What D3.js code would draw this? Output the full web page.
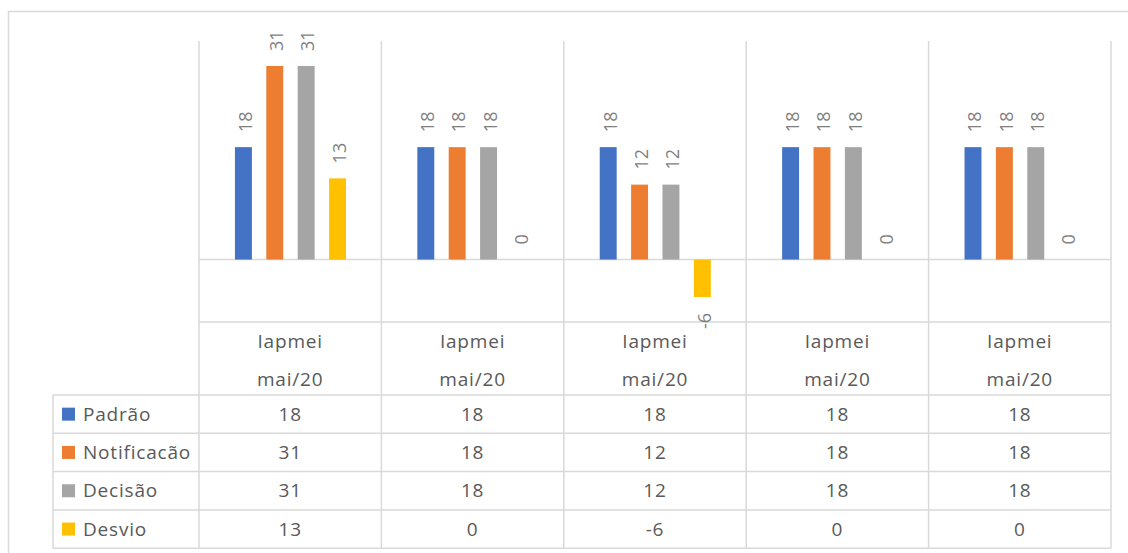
<!DOCTYPE html>
<html>
<head>
<meta charset="utf-8">
<script src="https://cdn.jsdelivr.net/npm/d3@7"></script>
<style>
  html, body { margin: 0; padding: 0; background: #ffffff; }
  svg { display: block; }
  text { font-family: "Open Sans", "Noto Sans", sans-serif; fill: #595959; }
</style>
</head>
<body>
<svg id="chart" width="1128" height="553"></svg>
<script>
// Categories (two-line labels shown in the data table header)
const categoryNames = ["Iapmei", "Iapmei", "Iapmei", "Iapmei", "Iapmei"];
const categoryDates = ["mai/20", "mai/20", "mai/20", "mai/20", "mai/20"];

// Series values
const seriesNames = ["Padrão", "Notificacão", "Decisão", "Desvio"];
const padrao      = [18, 18, 18, 18, 18];
const notificacao = [31, 18, 12, 18, 18];
const decisao     = [31, 18, 12, 18, 18];
const desvio      = [13, 0, -6, 0, 0];
const seriesColors = ["#4472C4", "#ED7D31", "#A5A5A5", "#FFC000"];

// Value axis range
const yDomain = [-10, 35];

const seriesValues = [padrao, notificacao, decisao, desvio];
const series = seriesNames.map((name, i) => ({ name, values: seriesValues[i], color: seriesColors[i] }));
const catIndex = categoryNames.map((_, i) => i);

const svg = d3.select("#chart");
const gridColor = "#D9D9D9";
const tableFont = "19px";
const tableSpacing = "0.8px";

// Layout of the plot area and the data table
const plotLeft = 199, plotRight = 1111;
const plotTop = 41, plotBottom = 322;
const headerBottom = 395;
const rowH = 38.3;
const tableBottom = headerBottom + rowH * series.length;
const legendLeft = 53;

// Outer chart border
svg.append("rect")
  .attr("x", 8.5).attr("y", 11.5)
  .attr("width", 1200).attr("height", 600)
  .attr("fill", "#ffffff")
  .attr("stroke", gridColor).attr("stroke-width", 1.5);

const x = d3.scaleBand().domain(catIndex).range([plotLeft, plotRight]).padding(0);
const bw = x.bandwidth();
const xInner = d3.scaleBand()
  .domain(d3.range(series.length))
  .range([bw * 0.197, bw * 0.806])
  .paddingInner(0.46).paddingOuter(0);
const y = d3.scaleLinear().domain(yDomain).range([plotBottom, plotTop]);

// Category separators (run through plot and table)
svg.append("g").selectAll("line")
  .data(d3.range(categoryNames.length + 1))
  .join("line")
  .attr("x1", i => plotLeft + i * bw).attr("x2", i => plotLeft + i * bw)
  .attr("y1", plotTop).attr("y2", tableBottom)
  .attr("stroke", gridColor).attr("stroke-width", 1.5);

// Horizontal axis at zero
svg.append("line")
  .attr("x1", plotLeft).attr("x2", plotRight)
  .attr("y1", y(0)).attr("y2", y(0))
  .attr("stroke", gridColor).attr("stroke-width", 1.5);

// Table top line
svg.append("line")
  .attr("x1", plotLeft).attr("x2", plotRight)
  .attr("y1", plotBottom).attr("y2", plotBottom)
  .attr("stroke", gridColor).attr("stroke-width", 1.5);

// Table row lines
svg.append("g").selectAll("line")
  .data(d3.range(series.length + 1))
  .join("line")
  .attr("x1", legendLeft).attr("x2", plotRight)
  .attr("y1", i => headerBottom + i * rowH).attr("y2", i => headerBottom + i * rowH)
  .attr("stroke", gridColor).attr("stroke-width", 1.5);

// Left edge of the legend column
svg.append("line")
  .attr("x1", legendLeft).attr("x2", legendLeft)
  .attr("y1", headerBottom).attr("y2", tableBottom)
  .attr("stroke", gridColor).attr("stroke-width", 1.5);

// Bars
const bars = svg.append("g");
series.forEach((s, si) => {
  bars.append("g").selectAll("rect")
    .data(s.values)
    .join("rect")
    .attr("x", (d, ci) => x(ci) + xInner(si))
    .attr("width", xInner.bandwidth())
    .attr("y", d => y(Math.max(0, d)))
    .attr("height", d => Math.abs(y(d) - y(0)))
    .attr("fill", s.color);
});

// Rotated data labels
const labels = svg.append("g");
series.forEach((s, si) => {
  labels.append("g").selectAll("text")
    .data(s.values)
    .join("text")
    .attr("transform", (d, ci) => {
      const cx = x(ci) + xInner(si) + xInner.bandwidth() / 2 + 2;
      const yy = d >= 0 ? y(d) - 15 : y(d) + 16;
      return `translate(${cx},${yy}) rotate(-90)`;
    })
    .attr("text-anchor", d => d >= 0 ? "start" : "end")
    .attr("dy", "0.35em")
    .style("font-size", "18px")
    .style("fill", "#7F7F7F")
    .text(d => d);
});

// Table header: category labels
const header = svg.append("g");
header.selectAll("text.name")
  .data(categoryNames)
  .join("text")
  .attr("class", "name")
  .attr("x", (d, i) => x(i) + bw / 2)
  .attr("y", 341)
  .attr("dy", "0.35em")
  .attr("text-anchor", "middle")
  .style("font-size", tableFont)
  .style("letter-spacing", tableSpacing)
  .text(d => d);
header.selectAll("text.date")
  .data(categoryDates)
  .join("text")
  .attr("class", "date")
  .attr("x", (d, i) => x(i) + bw / 2)
  .attr("y", 379)
  .attr("dy", "0.35em")
  .attr("text-anchor", "middle")
  .style("font-size", tableFont)
  .style("letter-spacing", tableSpacing)
  .text(d => d);

// Table rows: legend key + values
series.forEach((s, si) => {
  const rowY = headerBottom + si * rowH + rowH / 2;
  const row = svg.append("g");
  row.append("rect")
    .attr("x", 62).attr("y", rowY - 6.5)
    .attr("width", 13).attr("height", 13)
    .attr("fill", s.color);
  row.append("text")
    .attr("x", 83).attr("y", rowY)
    .attr("dy", "0.35em")
    .style("font-size", tableFont)
    .style("letter-spacing", tableSpacing)
    .text(s.name);
  row.selectAll("text.val")
    .data(s.values)
    .join("text")
    .attr("class", "val")
    .attr("x", (d, ci) => x(ci) + bw / 2)
    .attr("y", rowY)
    .attr("dy", "0.35em")
    .attr("text-anchor", "middle")
    .style("font-size", tableFont)
    .style("letter-spacing", tableSpacing)
    .text(d => d);
});
</script>
</body>
</html>
